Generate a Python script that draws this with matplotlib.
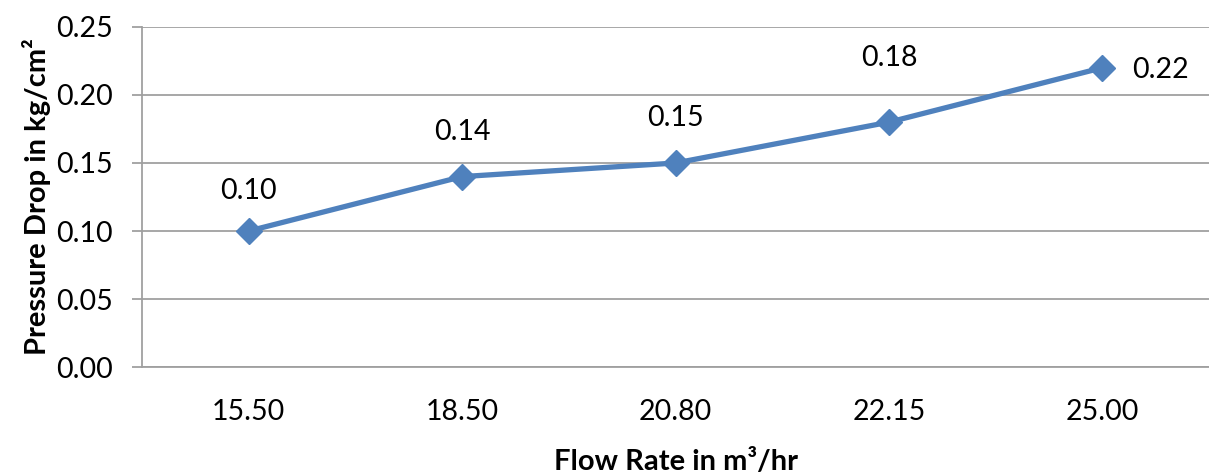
import matplotlib.pyplot as plt
import numpy as np

# data
flow_labels = ["15.50", "18.50", "20.80", "22.15", "25.00"]
pressure_drop = [0.10, 0.14, 0.15, 0.18, 0.22]

plt.rcParams['font.family'] = ['Lato', 'DejaVu Sans']

fig = plt.figure(figsize=(12.09, 4.73), dpi=100)
ax = fig.add_axes([0.1175, 0.224, 0.8825, 0.719])

x = np.arange(len(flow_labels))
ax.plot(x, pressure_drop, color="#4F81BD", lw=3.8, marker="D", ms=13,
        solid_joinstyle="miter", zorder=3)

# label offsets in pixels (dx, dy)
offsets = [(0, 40), (0, 45), (0, 45), (0, 64), (58, -2)]
for xi, yi, (dx, dy) in zip(x, pressure_drop, offsets):
    ax.annotate("%.2f" % yi, (xi, yi), xytext=(dx * 0.72, dy * 0.72),
                textcoords="offset points", ha="center", va="center",
                fontsize=20.5, color="black")

ax.set_xlim(-0.5, len(x) - 0.5)
ax.set_ylim(0, 0.25)
ax.set_yticks(np.arange(0, 0.26, 0.05))
ax.set_yticklabels(["%.2f" % v for v in np.arange(0, 0.26, 0.05)])
ax.set_xticks(x)
ax.set_xticklabels(flow_labels)

ax.grid(axis="y", color="#A0A0A0", lw=1.3)
ax.set_axisbelow(True)
for s in ["top", "right"]:
    ax.spines[s].set_visible(False)
ax.spines["left"].set_color("#A0A0A0")
ax.spines["bottom"].set_color("#A0A0A0")
ax.spines["left"].set_linewidth(1.3)
ax.spines["bottom"].set_linewidth(1.3)

ax.tick_params(axis="y", length=7, width=1.3, color="#A0A0A0", labelsize=20.5, pad=14)
ax.tick_params(axis="x", length=0, labelsize=20.5, pad=23)

ax.set_xlabel("Flow Rate in m³/hr", fontsize=21, fontweight="bold", labelpad=17)
ax.set_ylabel("Pressure Drop in kg/cm²", fontsize=21, fontweight="bold", labelpad=4)

fig.savefig("out.png", dpi=100)
